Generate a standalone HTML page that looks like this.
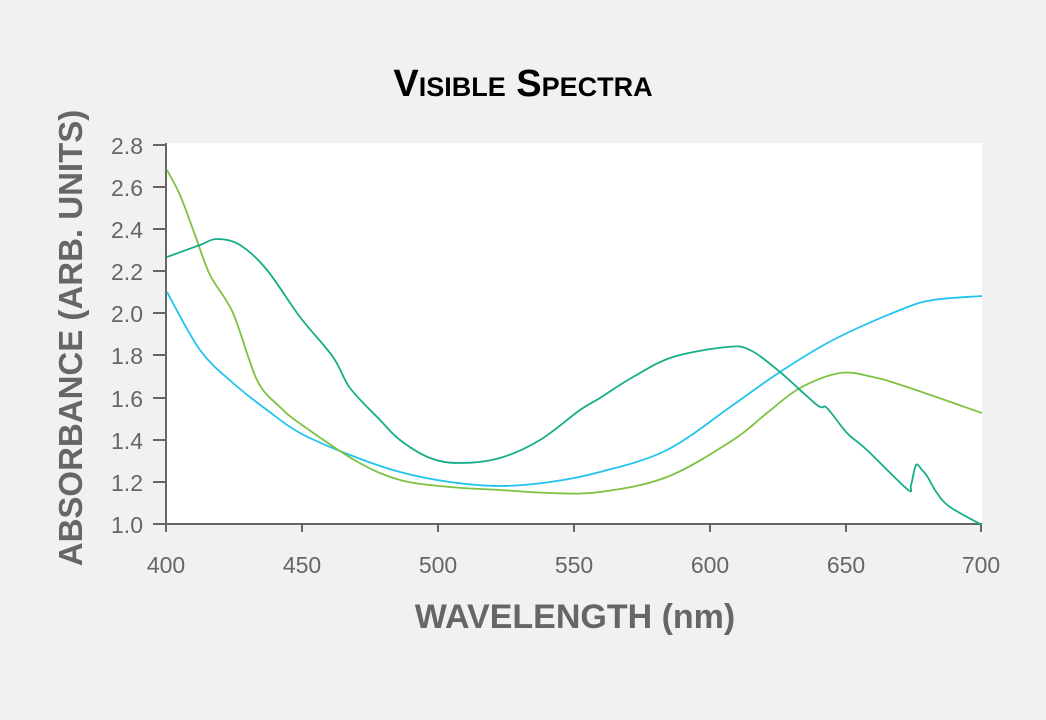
<!DOCTYPE html>
<html><head><meta charset="utf-8"><style>
body{margin:0;background:#f1f1f1;}
svg{display:block}
</style></head><body>
<svg id="s" width="1046" height="720" xmlns="http://www.w3.org/2000/svg">
<rect width="1046" height="720" fill="#f1f1f1"/>
<text x="523" y="96" text-anchor="middle" font-family="Liberation Sans, sans-serif" font-weight="bold" font-size="38" fill="#000" style="font-variant:small-caps">Visible Spectra</text>
<rect x="167" y="143" width="815" height="381" fill="#fff"/>
<g stroke="#666" stroke-width="2" fill="none">
<line x1="166" y1="143" x2="166" y2="532"/>
<line x1="153" y1="524" x2="982" y2="524"/>
<line x1="153" y1="145" x2="166" y2="145"/>
<line x1="153" y1="187" x2="166" y2="187"/>
<line x1="153" y1="229" x2="166" y2="229"/>
<line x1="153" y1="271" x2="166" y2="271"/>
<line x1="153" y1="313" x2="166" y2="313"/>
<line x1="153" y1="355" x2="166" y2="355"/>
<line x1="153" y1="398" x2="166" y2="398"/>
<line x1="153" y1="440" x2="166" y2="440"/>
<line x1="153" y1="482" x2="166" y2="482"/>
<line x1="302" y1="524" x2="302" y2="532"/>
<line x1="438" y1="524" x2="438" y2="532"/>
<line x1="574" y1="524" x2="574" y2="532"/>
<line x1="710" y1="524" x2="710" y2="532"/>
<line x1="846" y1="524" x2="846" y2="532"/>
<line x1="981" y1="524" x2="981" y2="532"/>
</g>
<g font-family="Liberation Sans, sans-serif" font-size="23" fill="#666" text-anchor="end">
<text x="143" y="154">2.8</text><text x="143" y="196">2.6</text><text x="143" y="238">2.4</text>
<text x="143" y="280">2.2</text><text x="143" y="322">2.0</text><text x="143" y="364">1.8</text>
<text x="143" y="407">1.6</text><text x="143" y="449">1.4</text><text x="143" y="491">1.2</text>
<text x="143" y="533">1.0</text>
</g>
<g font-family="Liberation Sans, sans-serif" font-size="23" fill="#666" text-anchor="middle">
<text x="166" y="573">400</text><text x="302" y="573">450</text><text x="438" y="573">500</text>
<text x="574" y="573">550</text><text x="710" y="573">600</text><text x="846" y="573">650</text>
<text x="981" y="573">700</text>
</g>
<text x="575" y="628" text-anchor="middle" font-family="Liberation Sans, sans-serif" font-weight="bold" font-size="34" fill="#666">WAVELENGTH (nm)</text>
<text transform="translate(82,338) rotate(-90)" text-anchor="middle" font-family="Liberation Sans, sans-serif" font-weight="bold" font-size="33" fill="#666">ABSORBANCE (ARB. UNITS)</text>
<g fill="none" stroke-width="1.8" stroke-linejoin="round">
<path id="b" stroke="#22c4ee"/>
<path id="g" stroke="#7dc242"/>
<path id="t" stroke="#16ae8a"/>
</g>
</svg>
<script>
function cr(s){var p=s.trim().split(/\s+/).map(function(q){return q.split(',').map(Number)});
var d='M'+p[0][0]+','+p[0][1];
for(var i=0;i<p.length-1;i++){var a=p[i-1]||p[i],b=p[i],c=p[i+1],e=p[i+2]||c;
d+=' C'+(b[0]+(c[0]-a[0])/6).toFixed(1)+','+(b[1]+(c[1]-a[1])/6).toFixed(1)+' '+(c[0]-(e[0]-b[0])/6).toFixed(1)+','+(c[1]-(e[1]-b[1])/6).toFixed(1)+' '+c[0]+','+c[1];}
return d;}
document.getElementById('b').setAttribute('d',cr("167,292 200,350 233,383 267,410 300,433 350,455 400,472 450,482 500,486 550,482 600,472 667,450 733,405 780,372 833,340 900,310 933,300 982,296"));
document.getElementById('g').setAttribute('d',cr("167,170 180,195 195,235 210,275 233,313 257,380 280,407 302,425 356,461 400,480 450,487 500,490 550,493 600,492 667,477 733,440 767,413 800,388 840,373 873,377 907,387 982,413"));
document.getElementById('t').setAttribute('d',cr("167,257 200,245 217,239 240,245 267,270 300,317 333,357 350,388 380,420 400,440 430,458 460,463 500,458 540,440 580,410 600,398 633,377 673,357 727,347 750,350 780,372 817,405 827,408 847,433 867,450 907,489 911,485 916,465 922,470 927,476 937,493 950,507 982,525"));
</script>
</body></html>
